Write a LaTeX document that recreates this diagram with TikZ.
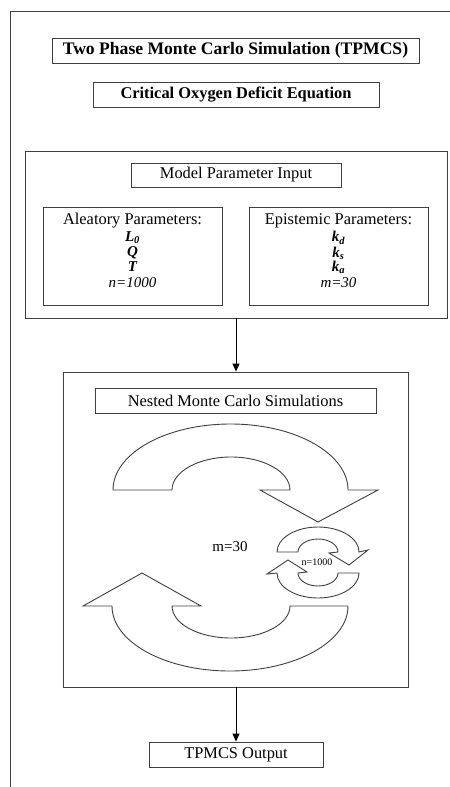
\documentclass[tikz,border=0pt]{standalone}
\usepackage{fontspec}
\setmainfont{Liberation Serif}
\usetikzlibrary{arrows.meta}
\tikzset{
  ln/.style={draw=black!75, line width=0.9bp},
  boxn/.style={ln, rectangle, inner sep=0pt, font=\fontsize{16.4bp}{18bp}\selectfont},
  ttl/.style={boxn, font=\fontsize{17.6bp}{19bp}\selectfont\bfseries},
  subtl/.style={boxn, font=\fontsize{16.4bp}{18bp}\selectfont\bfseries},
  hdr/.style={inner sep=0pt, font=\fontsize{16.4bp}{18bp}\selectfont},
  parv/.style={inner sep=0pt, font=\fontsize{15bp}{15bp}\selectfont\bfseries\itshape},
  pari/.style={inner sep=0pt, font=\fontsize{15bp}{15bp}\selectfont\itshape},
  conn/.style={ln, -{Triangle[length=8bp,width=7bp]}, draw=black},
  cyclearrow/.style={ln, fill=white, line join=miter},
}
\begin{document}
\begin{tikzpicture}[x=1bp,y=-1bp]
\useasboundingbox (0,0) rectangle (450,787);
% outer frame (partly visible)
\draw[ln] (450,11) -- (10,11) -- (10,787);
% title boxes
\node[ttl, minimum width=367bp, minimum height=25bp] (title) at (235.5,50.5) {Two Phase Monte Carlo Simulation (TPMCS)};
\node[subtl, minimum width=286bp, minimum height=25bp] (crit) at (236,94.5) {Critical Oxygen Deficit Equation};
% model parameter input
\node[boxn, minimum width=422bp, minimum height=167bp] (mpi) at (236,234.5) {};
\node[boxn, minimum width=210bp, minimum height=24bp] (mpit) at (236,175) {Model Parameter Input};
\node[boxn, minimum width=179bp, minimum height=98bp] (alea) at (132.5,256) {};
\node[boxn, minimum width=179bp, minimum height=98bp] (epi) at (338.5,256) {};
\node[hdr] (aleah) at (132.5,221) {Aleatory Parameters:};
\node[parv] (aleal) at (132.5,238) {L\textsubscript{0}};
\node[parv] (aleaq) at (132.5,253) {Q};
\node[parv] (aleat) at (132.5,267) {T};
\node[pari] (alean) at (132.5,283) {n=1000};
\node[hdr] (epih) at (338.5,221) {Epistemic Parameters:};
\node[parv] (epid) at (338.5,238) {k\textsubscript{d}};
\node[parv] (epis) at (338.5,253) {k\textsubscript{s}};
\node[parv] (epia) at (338.5,267) {k\textsubscript{a}};
\node[pari] (epim) at (338.5,283) {m=30};
% nested
\node[boxn, minimum width=345bp, minimum height=315bp] (nest) at (235.5,529.5) {};
\node[boxn, minimum width=281bp, minimum height=25bp] (nestt) at (235.5,400.5) {Nested Monte Carlo Simulations};
% big arrows
\draw[cyclearrow] (113,490) arc[start angle=180, end angle=0, x radius=117.5bp, y radius=66bp]
  -- (378,490) -- (318,522) -- (260,490) -- (290,490)
  arc[start angle=0, end angle=180, x radius=59bp, y radius=33bp] -- cycle;
\draw[cyclearrow] (348,606) arc[start angle=0, end angle=-180, x radius=118bp, y radius=65bp]
  -- (83,606) -- (142,573) -- (201,606) -- (172,606)
  arc[start angle=180, end angle=360, x radius=59bp, y radius=32bp] -- cycle;
% small arrows
\draw[cyclearrow] (277,552) arc[start angle=180, end angle=0, x radius=41bp, y radius=25bp]
  -- (368,550) -- (349,565) -- (329,553) -- (338,552)
  arc[start angle=0, end angle=180, x radius=20bp, y radius=13bp] -- cycle;
\draw[cyclearrow] (359,573) arc[start angle=0, end angle=-180, x radius=41bp, y radius=25bp]
  -- (267,574) -- (288,560) -- (307,572) -- (298,573)
  arc[start angle=180, end angle=360, x radius=20bp, y radius=13bp] -- cycle;
\node[inner sep=0pt, font=\fontsize{15bp}{15bp}\selectfont] (mlab) at (230,547) {m=30};
\node[inner sep=0pt, font=\fontsize{10bp}{10bp}\selectfont] (nlab) at (317,562) {n=1000};
% output
\node[boxn, minimum width=174bp, minimum height=25bp] (out) at (236,754.5) {TPMCS Output};
% connectors
\draw[conn] (mpi.south) -- (mpi.south |- nest.north);
\draw[conn] (nest.south -| out.north) -- (out.north);
\end{tikzpicture}
\end{document}
